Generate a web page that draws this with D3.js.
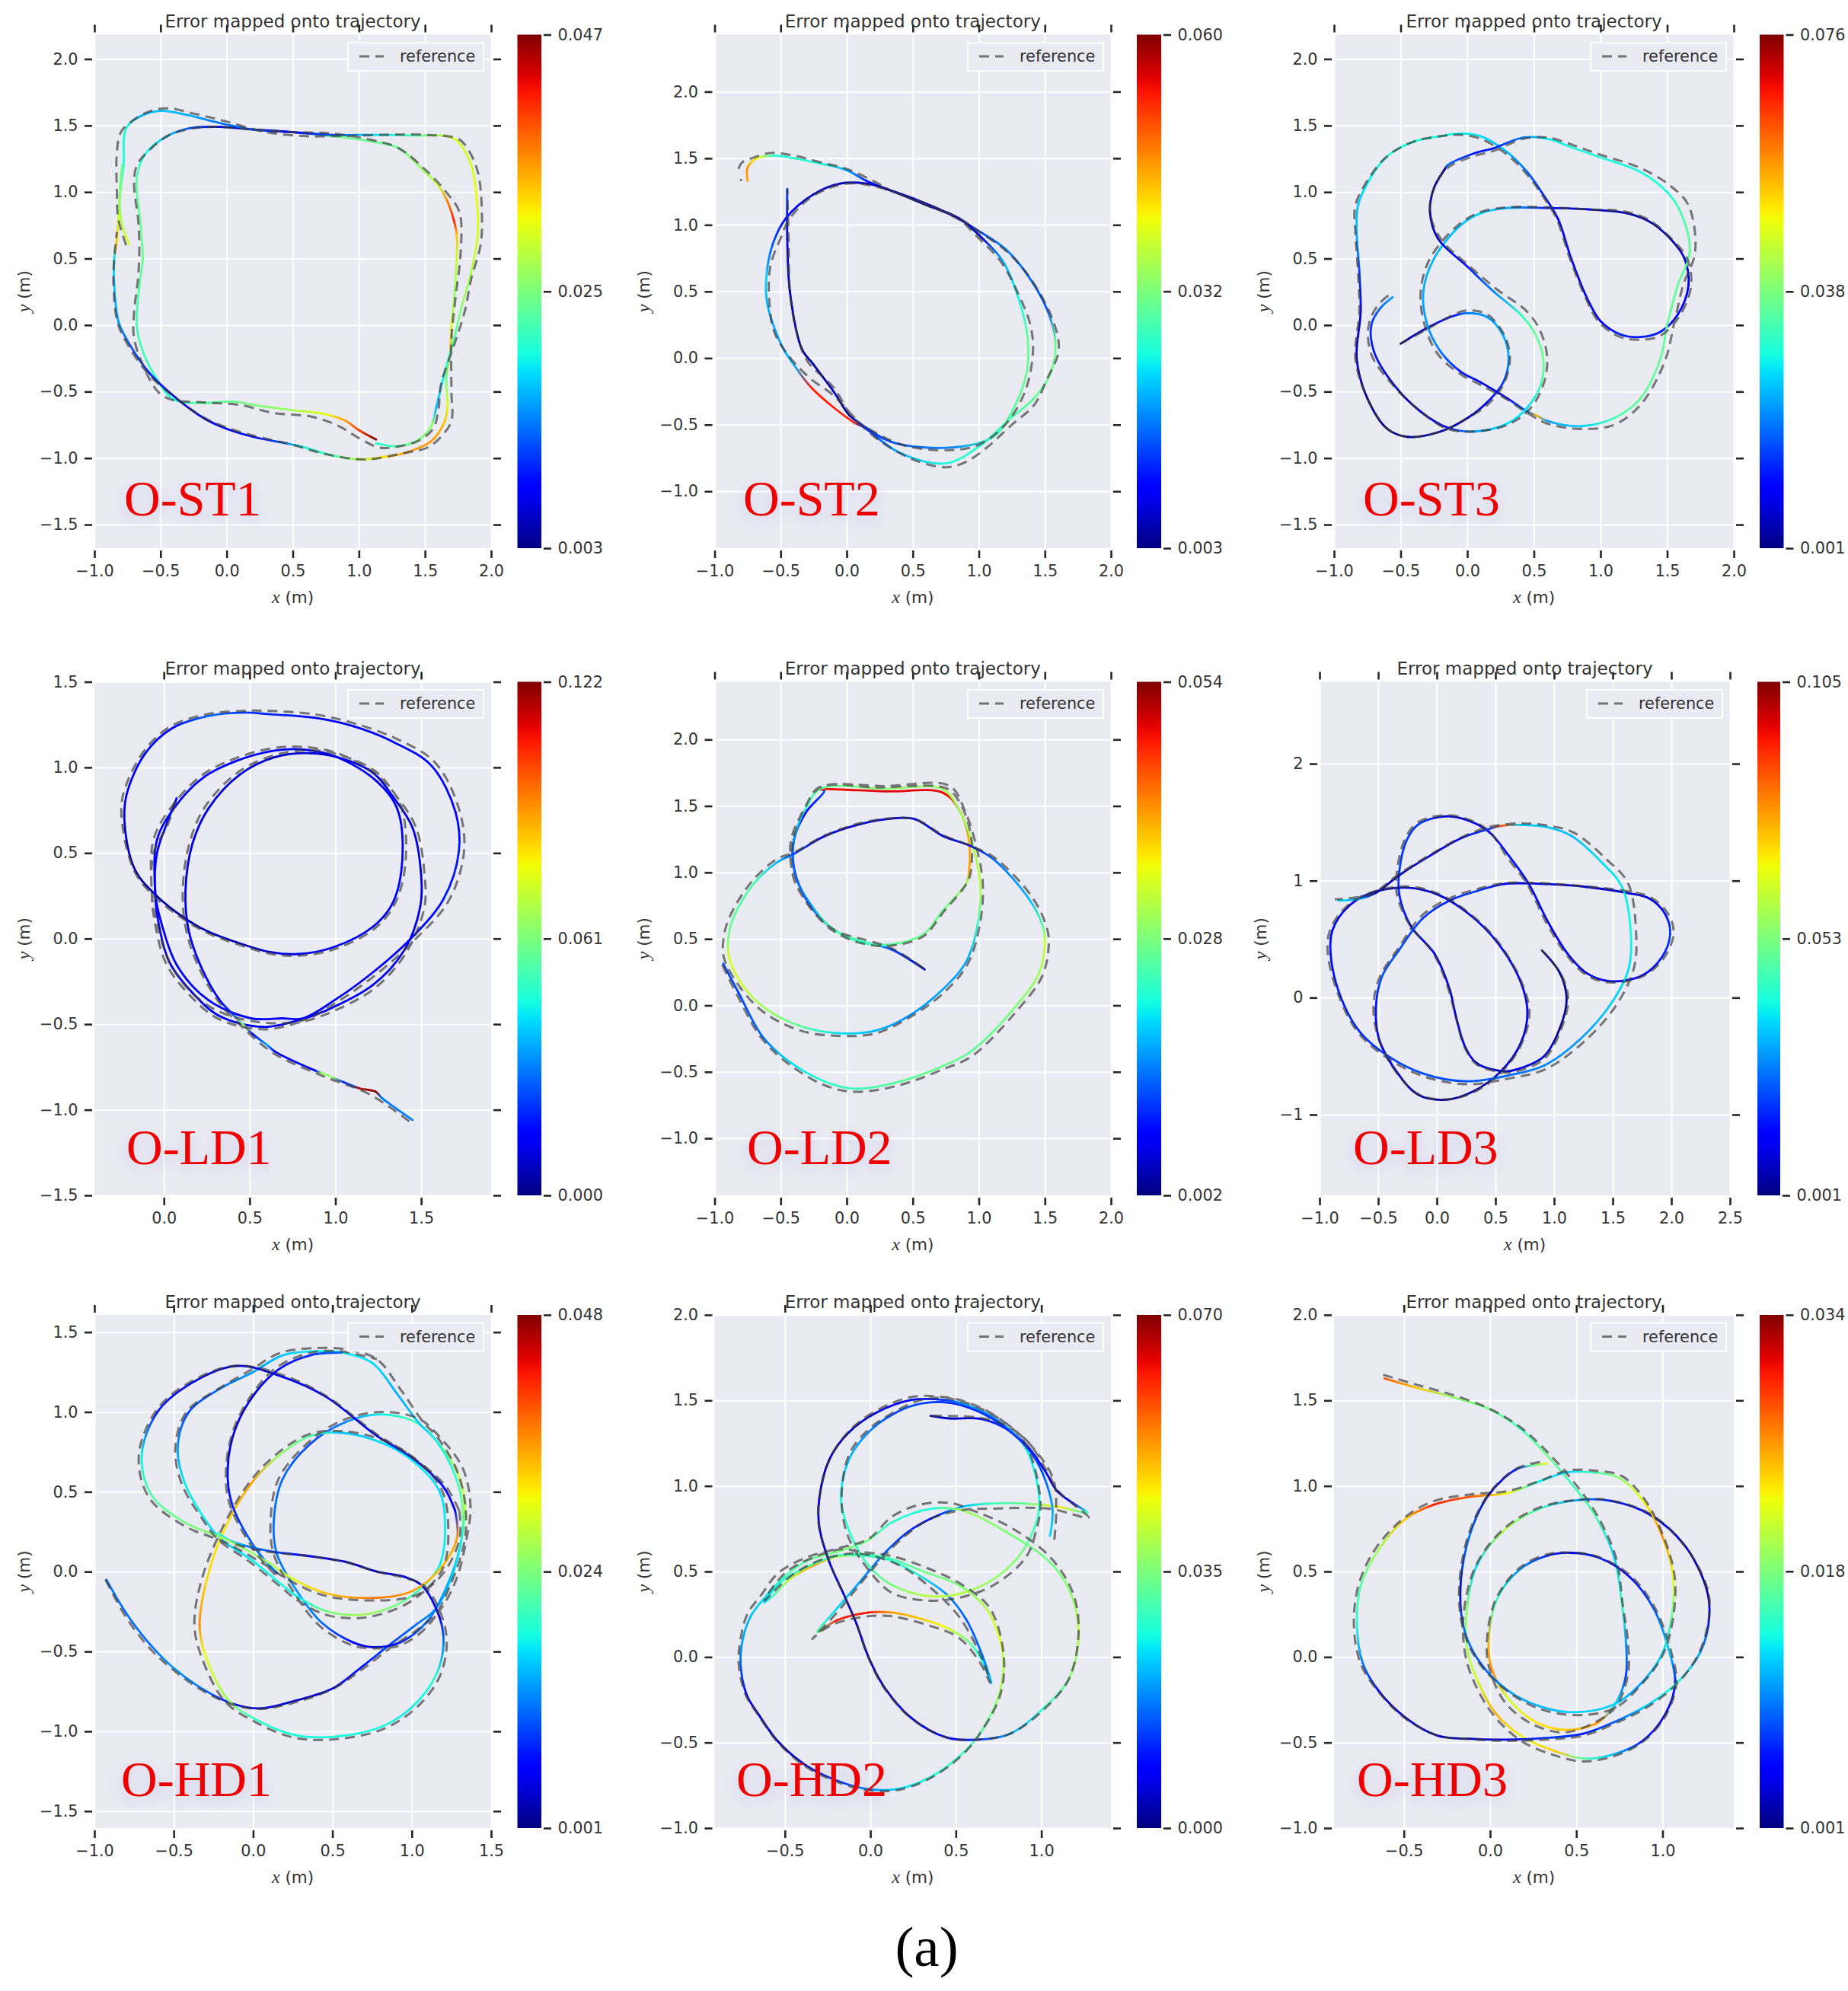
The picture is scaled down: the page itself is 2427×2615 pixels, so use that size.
<!DOCTYPE html>
<html>
<head>
<meta charset="utf-8">
<title>Error mapped onto trajectory</title>
<script src="https://cdn.jsdelivr.net/npm/d3@7"></script>
<style>
    body { margin: 0; background: #fff; }
    text { font-family: "DejaVu Sans", sans-serif; fill: #333; }
</style>
</head>
<body>
<svg id="chart" width="2427" height="2615"></svg>
<script>
const st1Traj = [[1.13,-.86,.047],[1,-.79,.04],[.9,-.72,.036],[.75,-.67,.031],[.5,-.64,.027],[.2,-.6,.025],[.05,-.575,.024],[-.2,-.585,.023],[-.4,-.56,.02],[-.55,-.37,.021],[-.65,-.15,.022],[-.68,0,.022],[-.66,.3,.023],[-.635,.5,.024],[-.65,.75,.024],[-.68,1.1,.023],[-.62,1.28,.02],[-.45,1.42,.017],[-.28,1.48,.012],[-.05,1.49,.006],[.2,1.47,.005],[.5,1.45,.006],[.8,1.42,.024],[1.1,1.38,.024],[1.3,1.33,.024],[1.5,1.15,.027],[1.6,1.05,.029],[1.67,.93,.037],[1.72,.78,.042],[1.74,.68,.034],[1.74,.5,.029],[1.72,.2,.026],[1.7,0,.03],[1.69,-.2,.035],[1.66,-.4,.024],[1.67,-.6,.03],[1.65,-.72,.034],[1.55,-.87,.036],[1.35,-.96,.036],[1.2,-.99,.033],[1,-1.01,.028],[.8,-.98,.022],[.55,-.91,.019],[.4,-.88,.012],[.2,-.84,.008],[0,-.78,.008],[-.163,-.706,.006],[-.37,-.558,.007],[-.58,-.365,.01],[-.727,-.157,.012],[-.816,.02,.015],[-.85,.3,.017],[-.85,.5,.018],[-.835,.6,.034],[-.82,.78,.03],[-.81,.95,.025],[-.78,1.2,.02],[-.76,1.48,.02],[-.65,1.57,.016],[-.5,1.61,.017],[-.3,1.58,.016],[-.1,1.53,.014],[.2,1.47,.012],[.5,1.45,.008],[.8,1.43,.012],[1.1,1.43,.018],[1.4,1.425,.022],[1.72,1.4,.03],[1.85,1.2,.03],[1.89,.95,.031],[1.9,.7,.03],[1.85,.4,.028],[1.78,.15,.026],[1.72,-.1,.023],[1.65,-.35,.02],[1.585,-.62,.016],[1.55,-.75,.026],[1.47,-.85,.025],[1.3,-.91,.023],[1.13,-.89,.02]];
const st1Stub = [[-.74,.61,.03],[-.79,.75,.028],[-.81,.95,.026],[-.79,1.2,.024]];
const st1Ref = [[-.76,.6],[-.82,.8],[-.83,1],[-.83,1.3],[-.8,1.45],[-.72,1.53],[-.6,1.6],[-.45,1.63],[-.25,1.59],[0,1.53],[.3,1.45],[.6,1.42],[.8,1.42],[1.2,1.43],[1.5,1.43],[1.75,1.4],[1.82,1.33],[1.9,1.15],[1.93,.85],[1.92,.6],[1.85,.35],[1.8,.1],[1.72,-.15],[1.62,-.45],[1.6,-.65],[1.56,-.78],[1.45,-.87],[1.25,-.92],[1.15,-.92],[1,-.85],[.85,-.76],[.65,-.69],[.35,-.66],[.1,-.6],[-.2,-.58],[-.42,-.56],[-.52,-.5],[-.62,-.33],[-.7,-.1],[-.7,.1],[-.67,.35],[-.66,.6],[-.67,.8],[-.7,1.05],[-.68,1.2],[-.6,1.3],[-.45,1.42],[-.3,1.47],[-.1,1.49],[.2,1.47],[.5,1.45],[.8,1.44],[1.1,1.39],[1.3,1.33],[1.5,1.17],[1.66,1],[1.76,.85],[1.77,.55],[1.73,.2],[1.7,-.1],[1.7,-.5],[1.7,-.72],[1.63,-.83],[1.52,-.92],[1.35,-.96],[1.05,-1.01],[.75,-.97],[.5,-.9],[.2,-.83],[0,-.77],[-.163,-.7],[-.37,-.56],[-.59,-.37],[-.74,-.16],[-.825,.02],[-.855,.3],[-.85,.5],[-.83,.7]];

const st2Traj = [[-.75,1.33,.045],[-.75,1.43,.046],[-.68,1.5,.04],[-.55,1.52,.025],[-.4,1.5,.026],[-.2,1.46,.025],[0,1.41,.02],[.15,1.33,.012],[.3,1.27,.008],[.5,1.2,.007],[.8,1.07,.008],[.99,.96,.014],[1.2,.82,.018],[1.35,.65,.016],[1.51,.38,.015],[1.58,.12,.03],[1.54,-.12,.031],[1.41,-.31,.029],[1.23,-.46,.028],[1.02,-.65,.026],[.75,-.79,.025],[.4,-.71,.02],[.13,-.52,.012],[.05,-.48,.053],[-.26,-.23,.053],[-.4,-.05,.02],[-.49,.09,.019],[-.6,.4,.02],[-.61,.59,.022],[-.56,.855,.015],[-.46,1.05,.01],[-.25,1.23,.007],[-.05,1.31,.006],[.15,1.31,.007],[.3,1.27,.006],[.6,1.15,.005],[.85,1.05,.007],[1.02,.905,.006],[1.18,.73,.02],[1.3,.45,.024],[1.37,.15,.03],[1.36,-.12,.03],[1.23,-.44,.029],[1.11,-.59,.027],[.81,-.67,.018],[.34,-.63,.015],[.1,-.49,.012],[.02,-.43,.005],[-.1,-.25,.006],[-.25,-.05,.005],[-.34,.07,.005],[-.43,.5,.006],[-.45,.9,.008],[-.45,1.27,.014]];
const st2Ref = [[-.82,1.42],[-.79,1.47],[-.72,1.5],[-.58,1.54],[-.4,1.52],[-.2,1.47],[0,1.42],[.2,1.33],[.35,1.25],[.6,1.16],[.85,1.05],[1,.95],[1.2,.81],[1.36,.64],[1.52,.38],[1.6,.15],[1.6,.03],[1.52,-.15],[1.42,-.35],[1.25,-.5],[1.05,-.68],[.9,-.78],[.75,-.82],[.5,-.76],[.25,-.62],[.1,-.49],[-.1,-.28],[-.28,-.15],[-.45,.03],[-.55,.2],[-.58,.35],[-.58,.68],[-.5,.9],[-.43,1.05],[-.25,1.22],[0,1.31],[.25,1.28],[.6,1.15],[.85,1.04],[1,.9],[1.17,.72],[1.3,.48],[1.39,.25],[1.41,.05],[1.35,-.25],[1.2,-.5],[1,-.65],[.8,-.69],[.45,-.66],[.2,-.55],[.05,-.45],[-.1,-.22],[-.3,-.02],[-.38,.2],[-.43,.5],[-.44,.9],[-.45,1.27]];
const st2RefDot = [[-.8,1.345],[-.8,1.33]];

const st3Traj = [[-.5,-.14,.003],[-.3,-.02,.008],[-.1,.07,.012],[0,.09,.02],[.15,.06,.022],[.27,-.08,.023],[.31,-.25,.022],[.27,-.43,.015],[.15,-.58,.008],[0,-.7,.005],[-.2,-.8,.004],[-.45,-.84,.003],[-.6,-.78,.002],[-.75,-.55,.003],[-.83,-.25,.006],[-.8,.1,.007],[-.81,.4,.015],[-.83,.7,.024],[-.82,.9,.025],[-.73,1.1,.028],[-.6,1.27,.03],[-.4,1.38,.03],[-.2,1.42,.03],[-.05,1.44,.028],[.1,1.42,.027],[.3,1.3,.024],[.45,1.15,.018],[.57,.98,.013],[.68,.8,.01],[.78,.5,.009],[.9,.2,.009],[1,.03,.01],[1.15,-.07,.012],[1.3,-.09,.012],[1.45,-.05,.012],[1.58,.08,.01],[1.66,.3,.01],[1.63,.5,.006],[1.55,.62,.005],[1.38,.77,.003],[1.2,.84,.004],[.9,.87,.006],[.6,.88,.012],[.3,.88,.024],[.1,.84,.026],[-.05,.75,.025],[-.25,.5,.024],[-.33,.25,.023],[-.3,0,.022],[-.2,-.2,.019],[-.05,-.35,.012],[.1,-.43,.008],[.3,-.55,.01],[.45,-.65,.018],[.52,-.68,.055],[.6,-.72,.022],[.85,-.76,.026],[1.1,-.7,.034],[1.3,-.55,.036],[1.45,-.25,.036],[1.5,0,.036],[1.58,.3,.036],[1.67,.55,.036],[1.6,.85,.034],[1.5,1,.03],[1.3,1.15,.03],[1,1.26,.03],[.8,1.33,.03],[.6,1.4,.028],[.42,1.41,.02],[.2,1.33,.012],[.05,1.29,.012],[-.15,1.2,.018],[-.17,1.17,.002],[-.25,1.03,.003],[-.28,.85,.003],[-.22,.65,.006],[0,.44,.012],[.2,.25,.02],[.4,.08,.032],[.5,-.05,.036],[.57,-.25,.037],[.55,-.45,.034],[.45,-.62,.027],[.3,-.74,.027],[.05,-.8,.022],[-.15,-.77,.01],[-.35,-.65,.005],[-.55,-.45,.006],[-.7,-.2,.012],[-.72,0,.014],[-.65,.13,.018],[-.56,.21,.022]];
const st3Ref = [[-.5,-.14],[-.3,-.03],[-.1,.08],[0,.11],[.15,.08],[.28,-.08],[.32,-.25],[.27,-.45],[.15,-.6],[0,-.7],[-.2,-.8],[-.45,-.84],[-.6,-.78],[-.75,-.55],[-.84,-.25],[-.81,.1],[-.82,.4],[-.84,.7],[-.84,.9],[-.74,1.1],[-.6,1.27],[-.4,1.38],[-.2,1.42],[-.05,1.43],[.1,1.4],[.3,1.28],[.45,1.13],[.56,.98],[.67,.8],[.77,.5],[.89,.2],[.99,.02],[1.15,-.09],[1.3,-.11],[1.45,-.08],[1.6,.08],[1.68,.3],[1.65,.5],[1.56,.62],[1.38,.78],[1.2,.85],[.9,.87],[.6,.885],[.3,.885],[.1,.85],[-.07,.75],[-.28,.5],[-.35,.25],[-.32,0],[-.22,-.22],[-.05,-.37],[.1,-.45],[.3,-.56],[.45,-.66],[.6,-.74],[.85,-.78],[1.1,-.75],[1.3,-.6],[1.48,-.28],[1.55,0],[1.62,.3],[1.71,.55],[1.66,.9],[1.52,1.05],[1.3,1.18],[1,1.28],[.8,1.35],[.6,1.41],[.42,1.4],[.2,1.31],[.05,1.27],[-.15,1.18],[-.25,1.03],[-.28,.85],[-.2,.65],[.02,.44],[.22,.27],[.45,.1],[.55,-.05],[.6,-.25],[.57,-.45],[.47,-.63],[.3,-.75],[.05,-.8],[-.15,-.78],[-.35,-.65],[-.55,-.46],[-.72,-.22],[-.74,0],[-.67,.15],[-.57,.24]];

const ld1Traj = [[.075,.82,.015],[.02,.68,.015],[-.04,.5,.015],[-.05,.26,.012],[-.016,.096,.015],[.076,-.156,.015],[.26,-.36,.015],[.51,-.466,.012],[.69,-.466,.015],[.81,-.466,.012],[1.01,-.35,.015],[1.24,-.18,.015],[1.44,0,.015],[1.63,.23,.018],[1.72,.51,.018],[1.7,.74,.015],[1.56,1.01,.015],[1.335,1.15,.015],[1.106,1.24,.015],[.877,1.29,.015],[.625,1.31,.02],[.465,1.32,.022],[.26,1.3,.028],[.05,1.23,.015],[-.11,1.08,.015],[-.22,.83,.012],[-.227,.647,.008],[-.165,.395,.005],[-.05,.257,.005],[.12,.12,.005],[.26,.04,.006],[.42,-.02,.006],[.625,-.08,.01],[.785,-.09,.012],[.99,-.05,.012],[1.22,.07,.012],[1.335,.21,.014],[1.39,.46,.014],[1.36,.76,.012],[1.24,.92,.012],[1.01,1.06,.012],[.81,1.105,.012],[.625,1.095,.014],[.42,1.037,.014],[.236,.945,.014],[.076,.784,.014],[-.04,.578,.015],[-.05,.257,.015],[-.04,.142,.014],[.03,-.133,.012],[.167,-.317,.012],[.327,-.454,.012],[.58,-.516,.012],[.785,-.477,.012],[.946,-.42,.012],[1.22,-.27,.012],[1.404,-.064,.012],[1.495,.188,.01],[1.5,.37,.01],[1.45,.647,.01],[1.335,.83,.01],[1.22,.968,.01],[1.01,1.06,.01],[.854,1.083,.008],[.648,1.06,.008],[.44,.956,.01],[.26,.76,.01],[.167,.555,.01],[.126,.28,.01],[.144,.05,.012],[.213,-.156,.012],[.327,-.362,.015],[.39,-.43,.02],[.465,-.505,.065],[.52,-.56,.015],[.6,-.62,.035],[.648,-.66,.015],[.88,-.77,.015],[.92,-.785,.065],[.98,-.81,.065],[1.05,-.84,.02],[1.1,-.86,.025],[1.14,-.875,.115],[1.235,-.895,.122],[1.27,-.93,.03],[1.45,-1.06,.03]];
const ld1Ref = [[.07,.8],[.02,.66],[-.06,.5],[-.07,.26],[-.04,.09],[.05,-.17],[.24,-.38],[.5,-.48],[.8,-.48],[1.01,-.37],[1.25,-.2],[1.45,-.02],[1.66,.22],[1.75,.51],[1.72,.76],[1.58,1.03],[1.35,1.17],[1.1,1.26],[.88,1.31],[.62,1.33],[.46,1.33],[.25,1.31],[.04,1.24],[-.12,1.09],[-.24,.83],[-.24,.65],[-.17,.39],[-.06,.25],[.12,.11],[.26,.03],[.42,-.03],[.63,-.09],[.79,-.1],[1,-.06],[1.23,.06],[1.35,.21],[1.41,.46],[1.38,.78],[1.26,.94],[1.02,1.08],[.81,1.12],[.62,1.11],[.41,1.05],[.23,.96],[.06,.79],[-.06,.58],[-.07,.26],[-.06,.14],[.01,-.14],[.15,-.33],[.32,-.47],[.58,-.53],[.79,-.49],[.95,-.44],[1.23,-.29],[1.42,-.07],[1.52,.19],[1.52,.37],[1.47,.65],[1.35,.84],[1.23,.98],[1,1.08],[.85,1.1],[.64,1.07],[.43,.97],[.24,.77],[.15,.56],[.11,.28],[.13,.05],[.2,-.16],[.32,-.37],[.45,-.51],[.64,-.67],[.92,-.8],[1.2,-.91],[1.46,-1.09]];

const ld2Traj = [[.59,.27,.005],[.34,.42,.012],[.16,.47,.022],[-.07,.55,.03],[-.22,.68,.012],[-.34,.86,.008],[-.4,1.04,.006],[-.4,1.245,.006],[-.31,1.45,.008],[-.17,1.615,.012],[-.2,1.625,.048],[.3,1.61,.05],[.727,1.6,.049],[.845,1.48,.045],[.92,1.275,.04],[.926,1.01,.04],[.905,.92,.03],[.727,.713,.027],[.58,.535,.027],[.34,.46,.026],[.1,.476,.024],[-.13,.595,.024],[-.28,.77,.016],[-.38,.95,.014],[-.41,1.15,.014],[-.37,1.35,.018],[-.3,1.5,.024],[-.2,1.63,.026],[.3,1.63,.029],[.73,1.625,.03],[.875,1.42,.03],[.96,1.186,.03],[1.01,.92,.032],[.994,.624,.024],[.905,.33,.017],[.727,.12,.017],[.46,-.086,.016],[.22,-.19,.018],[-.045,-.21,.02],[-.34,-.16,.026],[-.61,-.027,.03],[-.786,.15,.033],[-.89,.36,.034],[-.896,.506,.028],[-.86,.654,.026],[-.7,.92,.025],[-.52,1.08,.018],[-.4,1.14,.012],[-.163,1.275,.006],[.104,1.364,.006],[.37,1.408,.006],[.52,1.4,.007],[.727,1.275,.006],[.935,1.2,.009],[1.11,1.1,.014],[1.38,.8,.018],[1.484,.595,.026],[1.5,.476,.033],[1.454,.24,.03],[1.26,-.03,.028],[.935,-.35,.026],[.727,-.456,.027],[.4,-.574,.026],[.06,-.627,.024],[-.163,-.574,.023],[-.43,-.426,.02],[-.638,-.234,.014],[-.816,.09,.012],[-.935,.314,.012]];
const ld2Ref = [[.58,.28],[.34,.43],[.15,.49],[-.08,.56],[-.24,.69],[-.36,.87],[-.42,1.05],[-.42,1.25],[-.33,1.46],[-.2,1.64],[.25,1.64],[.68,1.65],[.78,1.62],[.87,1.5],[.94,1.28],[.94,1.01],[.91,.92],[.73,.7],[.58,.52],[.34,.45],[.1,.47],[-.13,.58],[-.3,.77],[-.4,.95],[-.42,1.15],[-.38,1.35],[-.31,1.5],[-.21,1.64],[.3,1.65],[.78,1.65],[.9,1.45],[.98,1.2],[1.03,.92],[1.01,.62],[.92,.32],[.74,.1],[.46,-.1],[.22,-.21],[-.05,-.23],[-.35,-.19],[-.63,-.05],[-.81,.14],[-.93,.36],[-.93,.52],[-.88,.68],[-.72,.93],[-.53,1.1],[-.4,1.15],[-.16,1.28],[.1,1.37],[.37,1.41],[.52,1.4],[.73,1.28],[.94,1.2],[1.12,1.11],[1.4,.82],[1.51,.6],[1.53,.47],[1.48,.22],[1.28,-.05],[.95,-.38],[.73,-.48],[.4,-.6],[.06,-.65],[-.17,-.6],[-.44,-.44],[-.65,-.24],[-.83,.08],[-.95,.32]];

const ld3Traj = [[.9,.4,.003],[1.05,.21,.003],[1.107,-.01,.003],[1.05,-.26,.003],[.915,-.5,.008],[.68,-.614,.01],[.58,-.63,.009],[.346,-.564,.01],[.246,-.43,.01],[.163,-.16,.01],[.11,.07,.01],[-.02,.376,.012],[-.22,.61,.014],[-.32,.88,.018],[-.32,1.08,.02],[-.255,1.35,.02],[-.155,1.483,.02],[.08,1.55,.01],[.28,1.51,.01],[.446,1.416,.012],[.613,1.215,.016],[.78,.98,.015],[.95,.644,.012],[1.115,.376,.012],[1.28,.208,.01],[1.48,.14,.012],[1.75,.19,.012],[1.917,.342,.017],[1.99,.544,.02],[1.95,.71,.015],[1.817,.845,.01],[1.616,.896,.008],[1.28,.946,.008],[.88,.973,.01],[.58,.973,.013],[.346,.913,.02],[.11,.83,.018],[-.12,.678,.02],[-.32,.41,.022],[-.47,.175,.022],[-.52,-.094,.015],[-.49,-.362,.012],[-.32,-.664,.008],[-.155,-.832,.005],[.08,-.872,.004],[.313,-.8,.005],[.546,-.63,.007],[.713,-.396,.01],[.773,-.128,.012],[.713,.14,.01],[.513,.476,.012],[.28,.71,.01],[.01,.88,.008],[-.255,.94,.008],[-.556,.896,.006],[-.756,.778,.012],[-.89,.577,.015],[-.906,.376,.015],[-.82,.007,.017],[-.655,-.295,.018],[-.42,-.497,.02],[-.12,-.648,.022],[.246,-.715,.022],[.613,-.664,.025],[.915,-.58,.028],[1.215,-.362,.03],[1.48,-.06,.035],[1.634,.24,.037],[1.655,.544,.04],[1.58,.946,.038],[1.415,1.148,.037],[1.148,1.383,.033],[.947,1.456,.035],[.713,1.477,.035],[.56,1.47,.085],[.44,1.44,.02],[.213,1.366,.012],[-.055,1.215,.01],[-.32,1.047,.006],[-.52,.896,.007],[-.655,.846,.03],[-.84,.83,.037]];
const ld3Ref = [[.89,.41],[1.06,.2],[1.12,-.01],[1.06,-.27],[.92,-.52],[.68,-.63],[.58,-.64],[.34,-.57],[.24,-.43],[.16,-.16],[.1,.07],[-.03,.38],[-.23,.62],[-.34,.88],[-.34,1.08],[-.27,1.36],[-.16,1.5],[.08,1.56],[.28,1.52],[.45,1.42],[.6,1.2],[.77,.97],[.94,.63],[1.11,.36],[1.28,.19],[1.48,.13],[1.75,.18],[1.93,.33],[2.02,.55],[1.97,.72],[1.82,.86],[1.62,.91],[1.28,.95],[.88,.98],[.58,.98],[.35,.93],[.11,.85],[-.13,.7],[-.33,.42],[-.49,.17],[-.54,-.09],[-.49,-.37],[-.33,-.66],[-.15,-.83],[.08,-.87],[.31,-.81],[.55,-.64],[.72,-.4],[.79,-.13],[.72,.14],[.52,.48],[.28,.72],[.01,.89],[-.25,.95],[-.56,.9],[-.77,.78],[-.91,.58],[-.93,.38],[-.83,0],[-.67,-.3],[-.43,-.51],[-.12,-.67],[.25,-.74],[.62,-.69],[.93,-.61],[1.24,-.39],[1.52,-.08],[1.68,.25],[1.7,.55],[1.63,.98],[1.45,1.18],[1.17,1.41],[.95,1.47],[.71,1.49],[.5,1.47],[.41,1.45],[.21,1.37],[-.06,1.22],[-.33,1.05],[-.53,.9],[-.67,.86],[-.87,.84]];

const hd1Traj = [[-.925,-.05,.012],[-.8,-.26,.012],[-.65,-.455,.012],[-.505,-.6,.014],[-.31,-.74,.012],[-.135,-.825,.007],[.04,-.857,.005],[.26,-.81,.004],[.51,-.727,.005],[.68,-.6,.008],[.88,-.443,.01],[1.03,-.33,.012],[1.15,-.234,.014],[1.25,-.037,.017],[1.31,.185,.022],[1.335,.406,.028],[1.285,.628,.028],[1.15,.825,.024],[1.025,.936,.022],[.8,.985,.018],[.58,.936,.013],[.36,.8,.01],[.186,.58,.012],[.13,.308,.012],[.15,.11,.012],[.285,-.135,.014],[.433,-.32,.012],[.63,-.443,.007],[.755,-.473,.005],[.927,-.443,.008],[1.1,-.308,.012],[1.223,-.086,.015],[1.31,.185,.018],[1.322,.382,.024],[1.273,.603,.02],[1.15,.825,.018],[1.05,.924,.016],[.903,1.12,.015],[.754,1.305,.017],[.557,1.372,.018],[.384,1.38,.018],[.186,1.355,.016],[-.011,1.244,.014],[-.21,1.145,.012],[-.406,.998,.01],[-.475,.776,.014],[-.43,.554,.018],[-.307,.333,.018],[-.21,.21,.016],[-.011,.074,.018],[.186,-.086,.019],[.285,-.16,.018],[.458,-.246,.024],[.68,-.27,.027],[.9,-.21,.024],[1.05,-.11,.02],[1.174,.037,.018],[1.21,.283,.018],[1.174,.505,.017],[1.026,.677,.018],[.828,.8,.017],[.557,.87,.016],[.36,.85,.022],[.162,.727,.026],[-.011,.554,.036],[-.184,.259,.032],[-.295,-.062,.033],[-.337,-.333,.037],[-.307,-.505,.031],[-.16,-.8,.026],[.014,-.924,.02],[.26,-1.022,.019],[.507,-1.034,.019],[.804,-.973,.019],[1,-.85,.018],[1.15,-.653,.02],[1.2,-.456,.013],[1.174,-.283,.005],[1.063,-.086,.005],[.952,-.032,.005],[.78,0,.004],[.58,.062,.004],[.335,.1,.006],[.137,.123,.01],[0,.15,.012],[-.135,.19,.016],[-.22,.24,.02]];
const hd1Stub = [[.15,-.01,.012],[.014,.148,.012],[-.135,.43,.008],[-.16,.653,.006],[-.11,.9,.005],[.014,1.12,.005],[.162,1.268,.007],[.36,1.355,.009],[.557,1.372,.012]];
const hd1Loop = [[1.273,.382,.008],[1.285,.21,.036],[1.174,.012,.034],[1,-.123,.036],[.754,-.165,.038],[.458,-.135,.034],[.236,-.037,.03],[.088,.062,.026],[-.16,.197,.026],[-.43,.308,.024],[-.64,.48,.022],[-.702,.727,.018],[-.604,.998,.008],[-.406,1.17,.006],[-.11,1.288,.004],[.186,1.22,.006],[.458,1.096,.006],[.78,.85,.006],[1,.714,.008],[1.2,.53,.006],[1.273,.382,.006]];
const hd1Ref = [[-.93,-.05],[-.81,-.27],[-.66,-.47],[-.51,-.61],[-.31,-.75],[-.135,-.83],[.04,-.86],[.26,-.82],[.51,-.73],[.69,-.61],[.89,-.46],[1.04,-.36],[1.17,-.25],[1.28,-.05],[1.34,.18],[1.37,.41],[1.32,.65],[1.17,.85],[1.04,.96],[.8,1],[.57,.95],[.36,.82],[.16,.58],[.11,.31],[.13,.11],[.27,-.15],[.42,-.34],[.62,-.46],[.75,-.48],[.93,-.46],[1.11,-.33],[1.24,-.09],[1.33,.18],[1.34,.39],[1.29,.62],[1.17,.83],[1.07,.94],[.93,1.14],[.78,1.33],[.6,1.39],[.38,1.4],[.17,1.37],[-.02,1.26],[-.21,1.15],[-.42,1],[-.49,.78],[-.45,.55],[-.32,.33],[-.22,.2],[-.02,.06],[.18,-.1],[.28,-.18],[.46,-.27],[.68,-.29],[.91,-.23],[1.07,-.13],[1.2,.03],[1.23,.28],[1.19,.51],[1.04,.69],[.83,.82],[.55,.88],[.35,.86],[.14,.73],[-.03,.55],[-.21,.24],[-.33,-.07],[-.37,-.33],[-.33,-.52],[-.18,-.81],[.01,-.94],[.26,-1.04],[.51,-1.05],[.81,-.99],[1.02,-.86],[1.17,-.67],[1.22,-.46],[1.19,-.28],[1.08,-.09],[.96,-.04],[.78,0],[.58,.06],[.33,.1],[.13,.12],[0,.14],[-.14,.18]];
const hd1RefStub = [[.14,-.02],[.01,.13],[-.15,.43],[-.17,.65],[-.12,.9],[0,1.12],[.15,1.28],[.36,1.37],[.55,1.38],[.78,1.33]];
const hd1RefLoop = [[1.3,.38],[1.3,.2],[1.19,-.02],[1.02,-.15],[.75,-.18],[.45,-.15],[.22,-.05],[.08,.04],[-.17,.18],[-.44,.29],[-.66,.47],[-.72,.73],[-.61,1.01],[-.41,1.18],[-.11,1.29],[.19,1.23],[.46,1.1],[.78,.86],[1,.72],[1.21,.54],[1.3,.38]];

const hd2Traj = [[.352,1.41,.004],[.471,1.394,.004],[.632,1.394,.008],[.77,1.348,.012],[.908,1.245,.008],[1.023,1.085,.008],[1.092,.97,.004],[1.184,.9,.008],[1.269,.844,.03],[1.092,.879,.046],[.908,.897,.033],[.7,.897,.03],[.54,.879,.022],[.356,.81,.009],[.218,.73,.012],[.08,.604,.016],[-.057,.444,.019],[-.195,.284,.024],[-.31,.146,.032],[-.195,.215,.062],[-.011,.26,.062],[.126,.26,.052],[.241,.238,.05],[.425,.18,.045],[.563,.1,.035],[.644,-.002,.026],[.708,-.151,.022],[.655,.009,.016],[.563,.215,.015],[.448,.364,.018],[.264,.49,.027],[.103,.57,.028],[-.057,.593,.029],[-.195,.586,.04],[-.333,.535,.052],[-.471,.455,.04],[-.563,.364,.03],[-.62,.318,.024],[-.517,.444,.028],[-.356,.535,.03],[-.195,.593,.03],[-.057,.6,.03],[.103,.58,.03],[.31,.5,.034],[.517,.42,.035],[.678,.284,.04],[.759,.1,.044],[.777,-.002,.04],[.759,-.197,.038],[.655,-.426,.032],[.54,-.563,.03],[.356,-.7,.027],[.172,-.769,.024],[-.011,-.773,.018],[-.195,-.723,.011],[-.379,-.632,.006],[-.54,-.494,.004],[-.655,-.334,.005],[-.724,-.22,.008],[-.759,-.037,.016],[-.747,.1,.02],[-.7,.238,.022],[-.632,.33,.024],[-.494,.478,.03],[-.356,.57,.033],[-.172,.622,.035],[-.011,.684,.034],[.126,.787,.028],[.356,.867,.027],[.54,.856,.038],[.816,.718,.035],[1.046,.558,.034],[1.161,.398,.036],[1.218,.146,.04],[1.161,-.128,.035],[1,-.311,.028],[.816,-.449,.02],[.632,-.483,.012],[.448,-.471,.008],[.241,-.357,.006],[.08,-.174,.004],[-.011,0,.004],[-.08,.192,.005],[-.149,.352,.006],[-.241,.558,.007],[-.299,.764,.005],[-.299,.924,.005],[-.241,1.153,.004],[-.126,1.313,.004],[.034,1.428,.006],[.241,1.503,.009],[.425,1.503,.012],[.563,1.474,.02],[.747,1.382,.018],[.908,1.222,.025],[.989,.902,.027],[.954,.741,.03],[.862,.581,.036],[.701,.444,.037],[.494,.364,.04],[.333,.357,.04],[.126,.421,.035],[-.011,.535,.03],[-.126,.741,.028],[-.172,.924,.026],[-.126,1.153,.022],[-.011,1.314,.018],[.126,1.416,.014],[.264,1.474,.014],[.425,1.49,.012],[.563,1.462,.012],[.747,1.371,.012],[.954,1.176,.012],[1.064,.879,.02],[1.05,.707,.024]];
const hd2Ref = [[.36,1.41],[.63,1.4],[.78,1.36],[.92,1.26],[1.03,1.09],[1.1,.97],[1.19,.89],[1.276,.815],[1.046,.867],[.7,.867],[.54,.86],[.356,.81],[.218,.72],[.08,.59],[-.057,.43],[-.195,.26],[-.34,.105],[-.29,.15],[-.195,.2],[-.011,.238],[.126,.238],[.356,.18],[.517,.113],[.644,-.037],[.7,-.151],[.655,-.014],[.517,.238],[.333,.421],[.172,.535],[-.057,.604],[-.195,.593],[-.333,.55],[-.47,.47],[-.62,.33],[-.5,.49],[-.34,.58],[-.17,.63],[-.057,.615],[.126,.59],[.333,.52],[.54,.42],[.7,.284],[.78,.01],[.76,-.22],[.655,-.426],[.54,-.57],[.356,-.705],[.172,-.775],[-.011,-.78],[-.195,-.73],[-.379,-.64],[-.54,-.5],[-.655,-.34],[-.73,-.22],[-.77,-.04],[-.76,.1],[-.72,.25],[-.64,.36],[-.54,.49],[-.38,.58],[-.17,.64],[-.011,.69],[.126,.82],[.287,.89],[.471,.9],[.59,.86],[.816,.76],[1.046,.59],[1.184,.376],[1.218,.146],[1.161,-.128],[1,-.32],[.816,-.449],[.632,-.483],[.448,-.471],[.241,-.36],[.08,-.18],[-.011,-.005],[-.08,.19],[-.149,.35],[-.241,.56],[-.3,.76],[-.3,.92],[-.24,1.15],[-.126,1.32],[.034,1.44],[.241,1.52],[.425,1.52],[.563,1.49],[.747,1.4],[.908,1.245],[.995,.902],[.97,.741],[.908,.58],[.72,.42],[.517,.346],[.333,.33],[.126,.375],[-.011,.51],[-.126,.695],[-.168,.9],[-.126,1.18],[-.011,1.33],[.126,1.425],[.287,1.5],[.425,1.515],[.563,1.485],[.759,1.39],[.954,1.22],[1.07,1.04],[1.087,.86],[1.076,.685]];

const hd3Traj = [[-.613,1.629,.028],[-.419,1.572,.024],[-.214,1.519,.018],[-.009,1.451,.017],[.173,1.336,.015],[.333,1.176,.017],[.469,1.016,.015],[.606,.833,.016],[.72,.581,.012],[.765,.307,.015],[.788,.078,.01],[.788,-.105,.007],[.731,-.265,.012],[.629,-.38,.026],[.446,-.426,.024],[.264,-.38,.023],[.105,-.243,.021],[.014,-.082,.026],[-.009,.055,.025],[.036,.33,.015],[.173,.513,.01],[.333,.593,.006],[.469,.609,.004],[.629,.581,.006],[.811,.467,.005],[.948,.284,.008],[1.039,.032,.012],[1.073,-.151,.006],[1.016,-.334,.004],[.879,-.494,.006],[.697,-.574,.012],[.538,-.593,.016],[.378,-.551,.024],[.196,-.471,.022],[.036,-.334,.025],[-.077,-.128,.021],[-.134,.055,.019],[-.134,.284,.018],[-.077,.535,.012],[.082,.741,.02],[.287,.867,.015],[.515,.918,.01],[.697,.913,.006],[.925,.833,.005],[1.13,.65,.003],[1.255,.398,.002],[1.271,.238,.004],[1.221,.032,.01],[1.084,-.151,.014],[.902,-.288,.012],[.72,-.38,.008],[.538,-.449,.006],[.355,-.471,.007],[.105,-.483,.004],[-.123,-.478,.003],[-.305,-.46,.003],[-.487,-.357,.003],[-.647,-.197,.004],[-.738,-.037,.009],[-.772,.192,.014],[-.749,.421,.016],[-.647,.627,.019],[-.487,.81,.024],[-.328,.89,.03],[-.123,.936,.028],[.105,.959,.022],[.287,1.027,.013],[.446,1.08,.012],[.583,1.08,.015],[.743,1.05,.018],[.879,.924,.022],[.993,.719,.026],[1.062,.467,.022],[1.05,.215,.016],[.993,.009,.012],[.856,-.174,.01],[.72,-.277,.012],[.492,-.323,.012],[.287,-.288,.011],[.105,-.197,.01],[-.055,-.037,.008],[-.146,.146,.009],[-.173,.375,.003],[-.123,.696,.009],[-.009,.947,.003],[.15,1.096,.006],[.24,1.119,.016],[.33,1.13,.022]];
const hd3Ref = [[-.62,1.65],[-.42,1.59],[-.21,1.53],[0,1.45],[.18,1.34],[.34,1.19],[.48,1.03],[.62,.83],[.73,.58],[.77,.3],[.8,.08],[.8,-.1],[.73,-.29],[.63,-.37],[.44,-.44],[.26,-.4],[.09,-.27],[0,-.08],[-.02,.06],[.03,.33],[.17,.52],[.33,.6],[.47,.61],[.63,.585],[.82,.47],[.96,.28],[1.05,.03],[1.08,-.15],[1.02,-.34],[.88,-.5],[.7,-.585],[.53,-.61],[.36,-.57],[.18,-.49],[.02,-.34],[-.1,-.13],[-.15,.05],[-.15,.28],[-.08,.54],[.08,.75],[.29,.875],[.52,.92],[.7,.915],[.93,.835],[1.13,.65],[1.26,.4],[1.27,.24],[1.21,.02],[1.08,-.16],[.9,-.3],[.72,-.39],[.54,-.46],[.36,-.48],[.1,-.49],[-.12,-.48],[-.3,-.46],[-.49,-.36],[-.65,-.2],[-.75,-.04],[-.79,.19],[-.76,.43],[-.66,.64],[-.49,.82],[-.33,.91],[-.12,.95],[.1,.97],[.29,1.03],[.45,1.09],[.6,1.09],[.76,1.06],[.89,.93],[1,.72],[1.07,.47],[1.06,.22],[1,.01],[.86,-.18],[.72,-.3],[.5,-.34],[.28,-.3],[.1,-.2],[-.06,-.04],[-.15,.14],[-.18,.38],[-.13,.7],[-.01,.95],[.15,1.1],[.32,1.145]];

// Tick values, one list per kind of axis
const ticksM1to2 = [-1, -.5, 0, .5, 1, 1.5, 2];
const ticksM1to25 = [-1, -.5, 0, .5, 1, 1.5, 2, 2.5];
const ticksM1to15 = [-1, -.5, 0, .5, 1, 1.5];
const ticksM15to2 = [-1.5, -1, -.5, 0, .5, 1, 1.5, 2];
const ticksM15to15 = [-1.5, -1, -.5, 0, .5, 1, 1.5];
const ticks0to15 = [0, .5, 1, 1.5];
const ticksM05to1 = [-.5, 0, .5, 1];
const ticksInt = [-1, 0, 1, 2];

// One entry per panel. The colorbar middle values are nudged so that they round like the labels.
const panels = [
    { name: 'O-ST1', col: 0, row: 0, xd: [-1, 2], yd: [-1.677, 2.183], xt: ticksM1to2, yt: ticksM15to2, err: [.003, .025, .047], traj: [st1Traj, st1Stub], ref: [st1Ref], nameX: 163, yf: '.1f' },
    { name: 'O-ST2', col: 1, row: 0, xd: [-1, 2], yd: [-1.427, 2.428], xt: ticksM1to2, yt: ticksM1to2, err: [.003, .03151, .06], traj: [st2Traj], ref: [st2Ref, st2RefDot], nameX: 976, yf: '.1f' },
    { name: 'O-ST3', col: 2, row: 0, xd: [-1, 2], yd: [-1.677, 2.183], xt: ticksM1to2, yt: ticksM15to2, err: [.001, .03849, .076], traj: [st3Traj], ref: [st3Ref], nameX: 1790, yf: '.1f' },
    { name: 'O-LD1', col: 0, row: 1, xd: [-.405, 1.908], yd: [-1.5, 1.5], xt: ticks0to15, yt: ticksM15to15, err: [0, .061, .122], traj: [ld1Traj], ref: [ld1Ref], nameX: 166, yf: '.1f' },
    { name: 'O-LD2', col: 1, row: 1, xd: [-1, 2], yd: [-1.429, 2.434], xt: ticksM1to2, yt: ticksM1to2, err: [.002, .028, .054], traj: [ld2Traj], ref: [ld2Ref], nameX: 981, yf: '.1f' },
    { name: 'O-LD3', col: 2, row: 1, xd: [-1, 2.5], yd: [-1.69, 2.7], xt: ticksM1to25, yt: ticksInt, err: [.001, .053, .105], traj: [ld3Traj], ref: [ld3Ref], nameX: 1777, yf: '.0f', left: 1733, right: 2272, cb: [2308, 2338], yLabelX: 1655 },
    { name: 'O-HD1', col: 0, row: 2, xd: [-1, 1.5], yd: [-1.606, 1.608], xt: ticksM1to15, yt: ticksM15to15, err: [.001, .02449, .048], traj: [hd1Traj, hd1Stub, hd1Loop], ref: [hd1Ref, hd1RefStub, hd1RefLoop], nameX: 159, yf: '.1f' },
    { name: 'O-HD2', col: 1, row: 2, xd: [-.911, 1.407], yd: [-1, 2], xt: ticksM05to1, yt: ticksM1to2, err: [0, .035, .07], traj: [hd2Traj], ref: [hd2Ref], nameX: 967, yf: '.1f' },
    { name: 'O-HD3', col: 2, row: 2, xd: [-.905, 1.413], yd: [-1, 2], xt: ticksM05to1, yt: ticksM1to2, err: [.001, .01751, .034], traj: [hd3Traj], ref: [hd3Ref], nameX: 1782, yf: '.1f' }
];

// Page layout in pixels
const colLeft = [124, 938.5, 1752];
const colRight = [645, 1459, 2277];
const colBar = [[679.5, 711], [1493, 1525], [2311, 2342.5]];
const colYLabel = [31, 845, 1659];
const rowTop = [45.5, 895.5, 1727];
const rowBottom = [720, 1570, 2401];
const nameBaseline = [677, 1529, 2359];
const tickOffset = 3;

// matplotlib's jet colormap
const jetR = d3.scaleLinear().domain([0, .35, .66, .89, 1]).range([0, 0, 1, 1, .5]).clamp(true);
const jetG = d3.scaleLinear().domain([0, .125, .375, .64, .91, 1]).range([0, 0, 1, 1, 0, 0]).clamp(true);
const jetB = d3.scaleLinear().domain([0, .11, .34, .65, 1]).range([.5, 1, 1, 0, 0]).clamp(true);
function jet(t) {
    return d3.rgb(jetR(t) * 255, jetG(t) * 255, jetB(t) * 255).formatHex();
}

const svg = d3.select('#chart');
const defs = svg.append('defs');
let gradId = 0;

// Cut the smooth curve into one bezier per point pair so every pair can get its own gradient
function splitCurve(points, x, y) {
    const segs = [];
    let last = null;
    const ctx = {
        moveTo(a, b) { last = [a, b]; },
        lineTo(a, b) { segs.push({ from: last, to: [a, b], d: `M${last}L${a},${b}` }); last = [a, b]; },
        bezierCurveTo(a, b, c, d, e, f) {
            segs.push({ from: last, to: [e, f], d: `M${last}C${a},${b},${c},${d},${e},${f}` });
            last = [e, f];
        },
        closePath() {}
    };
    d3.line().x(p => x(p[0])).y(p => y(p[1])).curve(d3.curveCatmullRom.alpha(.5)).context(ctx)(points);
    return segs;
}

function styleAxis(g) {
    g.select('.domain').remove();
    g.selectAll('.tick line').attr('stroke', '#262626').attr('stroke-width', 2.6);
    g.selectAll('.tick text').attr('font-size', 20.8).attr('fill', '#333').attr('font-family', '"DejaVu Sans", sans-serif');
}

panels.forEach(p => {
    const left = p.left || colLeft[p.col];
    const right = p.right || colRight[p.col];
    const top = rowTop[p.row];
    const bottom = rowBottom[p.row];
    const w = right - left;
    const h = bottom - top;
    const bar = p.cb || colBar[p.col];

    const x = d3.scaleLinear().domain(p.xd).range([0, w]);
    const y = d3.scaleLinear().domain(p.yd).range([h, 0]);
    const g = svg.append('g').attr('transform', `translate(${left},${top})`);

    g.append('rect').attr('width', w).attr('height', h).attr('fill', '#EAEAF2');

    // grid
    g.append('g').attr('transform', `translate(0,${h})`)
        .call(d3.axisBottom(x).tickValues(p.xt).tickSize(-h).tickFormat(''))
        .call(a => a.select('.domain').remove())
        .call(a => a.selectAll('line').attr('stroke', '#fff').attr('stroke-width', 2));
    g.append('g')
        .call(d3.axisLeft(y).tickValues(p.yt).tickSize(-w).tickFormat(''))
        .call(a => a.select('.domain').remove())
        .call(a => a.selectAll('line').attr('stroke', '#fff').attr('stroke-width', 2));

    // outward ticks on all four sides, held a little off the frame
    g.append('g').attr('transform', `translate(0,${h + tickOffset})`)
        .call(d3.axisBottom(x).tickValues(p.xt).tickSize(10).tickPadding(9.5).tickFormat(d3.format('.1f')))
        .call(styleAxis);
    g.append('g').attr('transform', `translate(0,${-tickOffset})`)
        .call(d3.axisTop(x).tickValues(p.xt).tickSize(10).tickFormat(''))
        .call(styleAxis);
    g.append('g').attr('transform', `translate(${-tickOffset},0)`)
        .call(d3.axisLeft(y).tickValues(p.yt).tickSize(10).tickPadding(8.5).tickFormat(d3.format(p.yf)))
        .call(styleAxis);
    g.append('g').attr('transform', `translate(${w + tickOffset},0)`)
        .call(d3.axisRight(y).tickValues(p.yt).tickSize(10).tickFormat(''))
        .call(styleAxis);

    const errT = d3.scaleLinear().domain([p.err[0], p.err[2]]).range([0, 1]).clamp(true);
    p.traj.forEach(points => {
        const segs = splitCurve(points, x, y);
        segs.forEach((s, i) => {
            const id = 'seg' + (gradId++);
            const lg = defs.append('linearGradient').attr('id', id).attr('gradientUnits', 'userSpaceOnUse')
                .attr('x1', s.from[0]).attr('y1', s.from[1]).attr('x2', s.to[0]).attr('y2', s.to[1]);
            lg.append('stop').attr('offset', 0).attr('stop-color', jet(errT(points[i][2])));
            lg.append('stop').attr('offset', 1).attr('stop-color', jet(errT(points[i + 1][2])));
            g.append('path').attr('d', s.d).attr('fill', 'none').attr('stroke', `url(#${id})`)
                .attr('stroke-width', 2.8).attr('stroke-linecap', 'round');
        });
    });

    // reference sits over the coloured line, see-through
    const refLine = d3.line().x(d => x(d[0])).y(d => y(d[1])).curve(d3.curveCatmullRom.alpha(.5));
    p.ref.forEach(r => {
        g.append('path').attr('d', refLine(r)).attr('fill', 'none')
            .attr('stroke', '#3c3c3c').attr('stroke-opacity', .68)
            .attr('stroke-width', 3).attr('stroke-dasharray', '13 8');
    });

    // legend
    const leg = g.append('g').attr('transform', `translate(${w - 188},10.5)`);
    leg.append('rect').attr('width', 178).attr('height', 37).attr('fill', '#EAEAF2')
        .attr('stroke', '#fff').attr('stroke-width', 2);
    leg.append('line').attr('x1', 15).attr('x2', 47).attr('y1', 18).attr('y2', 18)
        .attr('stroke', '#3c3c3c').attr('stroke-opacity', .68).attr('stroke-width', 3).attr('stroke-dasharray', '13 8');
    leg.append('text').attr('x', 68).attr('y', 25).attr('font-size', 20.8).text('reference');

    // title and axis labels
    g.append('text').attr('x', w / 2).attr('y', -9.5).attr('text-anchor', 'middle')
        .attr('font-size', 23).text('Error mapped onto trajectory');
    const xl = g.append('text').attr('x', w / 2).attr('y', h + 72).attr('text-anchor', 'middle').attr('font-size', 21.5);
    xl.append('tspan').attr('font-family', '"Liberation Serif", serif').attr('font-style', 'italic').attr('font-size', 24).text('x');
    xl.append('tspan').text(' (m)');
    const yl = svg.append('text').attr('transform', `translate(${p.yLabelX || colYLabel[p.col]},${top + h / 2}) rotate(-90)`)
        .attr('dy', '.35em').attr('text-anchor', 'middle').attr('font-size', 21.5);
    yl.append('tspan').attr('font-family', '"Liberation Serif", serif').attr('font-style', 'italic').attr('font-size', 24).text('y');
    yl.append('tspan').text(' (m)');

    // panel name with its soft halo
    svg.append('text').attr('x', p.nameX).attr('y', nameBaseline[p.row])
        .attr('font-size', 66).style('font-family', '"Liberation Serif", serif').style('fill', '#ee0000')
        .style('filter', 'drop-shadow(0 6px 9px rgba(110,130,210,.28))').text(p.name);

    // colorbar
    const cbId = 'cb' + p.name;
    const cbGrad = defs.append('linearGradient').attr('id', cbId).attr('x1', 0).attr('y1', 1).attr('x2', 0).attr('y2', 0);
    d3.range(0, 1.001, .02).forEach(t => cbGrad.append('stop').attr('offset', t).attr('stop-color', jet(t)));
    const cbY = d3.scaleLinear().domain([p.err[0], p.err[2]]).range([bottom, top]);
    svg.append('rect').attr('x', bar[0]).attr('y', top).attr('width', bar[1] - bar[0]).attr('height', h)
        .attr('fill', `url(#${cbId})`);
    svg.append('g').attr('transform', `translate(${bar[1] + tickOffset},0)`)
        .call(d3.axisRight(cbY).tickValues(p.err).tickSize(10).tickPadding(8.5).tickFormat(d3.format('.3f')))
        .call(styleAxis);
});

svg.append('text').attr('x', 1217).attr('y', 2582).attr('text-anchor', 'middle')
    .attr('font-size', 75).style('font-family', '"Liberation Serif", serif').style('fill', '#000').text('(a)');
</script>
</body>
</html>
